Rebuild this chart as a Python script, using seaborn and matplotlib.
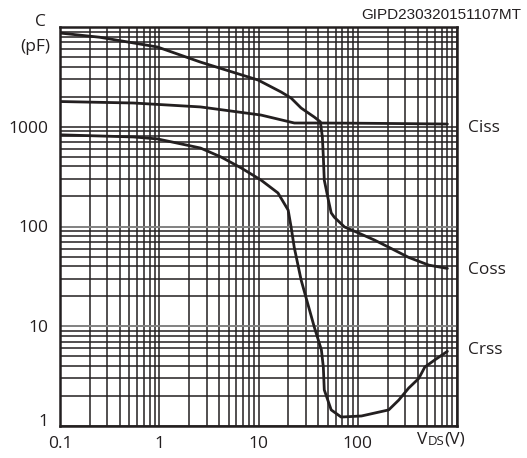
import numpy as np
import pandas as pd
import matplotlib
matplotlib.use('Agg')
import matplotlib.pyplot as plt
from matplotlib.ticker import LogLocator, NullFormatter, FixedLocator, FixedFormatter
import seaborn as sns

# values (VDS in V, C in pF)
ciss_v = [0.1, 0.55, 2.6, 10.6, 23, 40, 100, 300, 800]
ciss_c = [1790, 1730, 1580, 1310, 1090, 1090, 1085, 1075, 1065]

coss_v = [0.1, 0.25, 0.96, 2.6, 9.9, 16.9, 21.3, 26.9, 36.5, 42, 44, 45, 46,
          50.6, 54, 58, 73.5, 102, 148, 205, 326, 520, 800]
coss_c = [8700, 7900, 6300, 4450, 2940, 2230, 1940, 1540, 1250, 1120, 790, 500, 292,
          184, 137, 124, 99, 86, 73, 62, 49, 41, 38]

crss_v = [0.1, 0.55, 0.96, 2.6, 4.2, 6.7, 10.6, 15.7, 19.9, 21.3, 22.9, 26.9,
          36.5, 43, 45, 46, 54, 68, 109, 205, 259, 326, 412, 474, 598, 800]
crss_c = [830, 790, 755, 612, 497, 386, 292, 217, 146, 99, 62, 29,
          9.8, 5.8, 3.9, 2.3, 1.45, 1.23, 1.26, 1.45, 1.82, 2.4, 3.0, 3.9, 4.6, 5.6]

x_ticks = [0.1, 1, 10, 100, 1000]
x_labels = ['0.1', '1', '10', '100', '']
y_ticks = [1, 10, 100, 1000, 10000]
y_labels = ['1', '10', '100', '1000', '']

df = pd.concat([
    pd.DataFrame({'VDS': ciss_v, 'C': ciss_c, 'curve': 'Ciss'}),
    pd.DataFrame({'VDS': coss_v, 'C': coss_c, 'curve': 'Coss'}),
    pd.DataFrame({'VDS': crss_v, 'C': crss_c, 'curve': 'Crss'}),
], ignore_index=True)

sns.set_style('white')
plt.rcParams['font.family'] = ['Open Sans', 'DejaVu Sans']
INK = '#231f20'
FS = 12.5

fig = plt.figure(figsize=(5.27, 4.58), dpi=100)
ax = fig.add_axes([60 / 527, 1 - 426 / 458, 397 / 527, 399 / 458])

ax.set_xscale('log')
ax.set_yscale('log')
ax.set_xlim(0.1, 1000)
ax.set_ylim(1, 10000)

# dense log grid
ax.xaxis.set_minor_locator(LogLocator(base=10, subs=np.arange(2, 10)))
ax.yaxis.set_minor_locator(LogLocator(base=10, subs=np.arange(2, 10)))
ax.xaxis.set_minor_formatter(NullFormatter())
ax.yaxis.set_minor_formatter(NullFormatter())
ax.grid(which='both', color=INK, linewidth=1.1)
for yv in [10, 100]:
    ax.axhline(yv, color='#8a8a8a', linewidth=1.3, zorder=1.5)

sns.lineplot(data=df, x='VDS', y='C', hue='curve', units='curve', estimator=None,
             sort=False, palette=[INK] * 3, linewidth=2.0, legend=False, ax=ax)

ax.xaxis.set_major_locator(FixedLocator(x_ticks))
ax.xaxis.set_major_formatter(FixedFormatter(x_labels))
ax.yaxis.set_major_locator(FixedLocator(y_ticks))
ax.yaxis.set_major_formatter(FixedFormatter(y_labels))
ax.tick_params(which='both', length=0, labelsize=FS, colors=INK)
ax.tick_params(axis='x', pad=7)
ax.tick_params(axis='y', pad=8)
ax.get_yticklabels()[0].set_va('baseline')
ax.set_xlabel('')
ax.set_ylabel('')
for s in ax.spines.values():
    s.set_color(INK)
    s.set_linewidth(1.8)

# curve labels
for name, y in [('Ciss', 128), ('Coss', 270), ('Crss', 350)]:
    fig.text(468 / 527, 1 - y / 458, name, ha='left', va='center', fontsize=FS, color=INK)

# axis titles
fig.text(40 / 527, 1 - 22 / 458, 'C', ha='center', va='center', fontsize=FS, color=INK)
fig.text(35 / 527, 1 - 47 / 458, '(pF)', ha='center', va='center', fontsize=FS, color=INK)
fig.text(417 / 527, 1 - 440 / 458, 'V', ha='left', va='center', fontsize=FS, color=INK)
fig.text(427.5 / 527, 1 - 441.5 / 458, 'DS', ha='left', va='center', fontsize=9.5, color=INK)
fig.text(444 / 527, 1 - 440 / 458, '(V)', ha='left', va='center', fontsize=FS, color=INK)

fig.text(521 / 527, 1 - 15 / 458, 'GIPD230320151107MT', ha='right', va='center',
         fontsize=11, family='Liberation Sans', color=INK)

fig.savefig('out.png', dpi=100)
